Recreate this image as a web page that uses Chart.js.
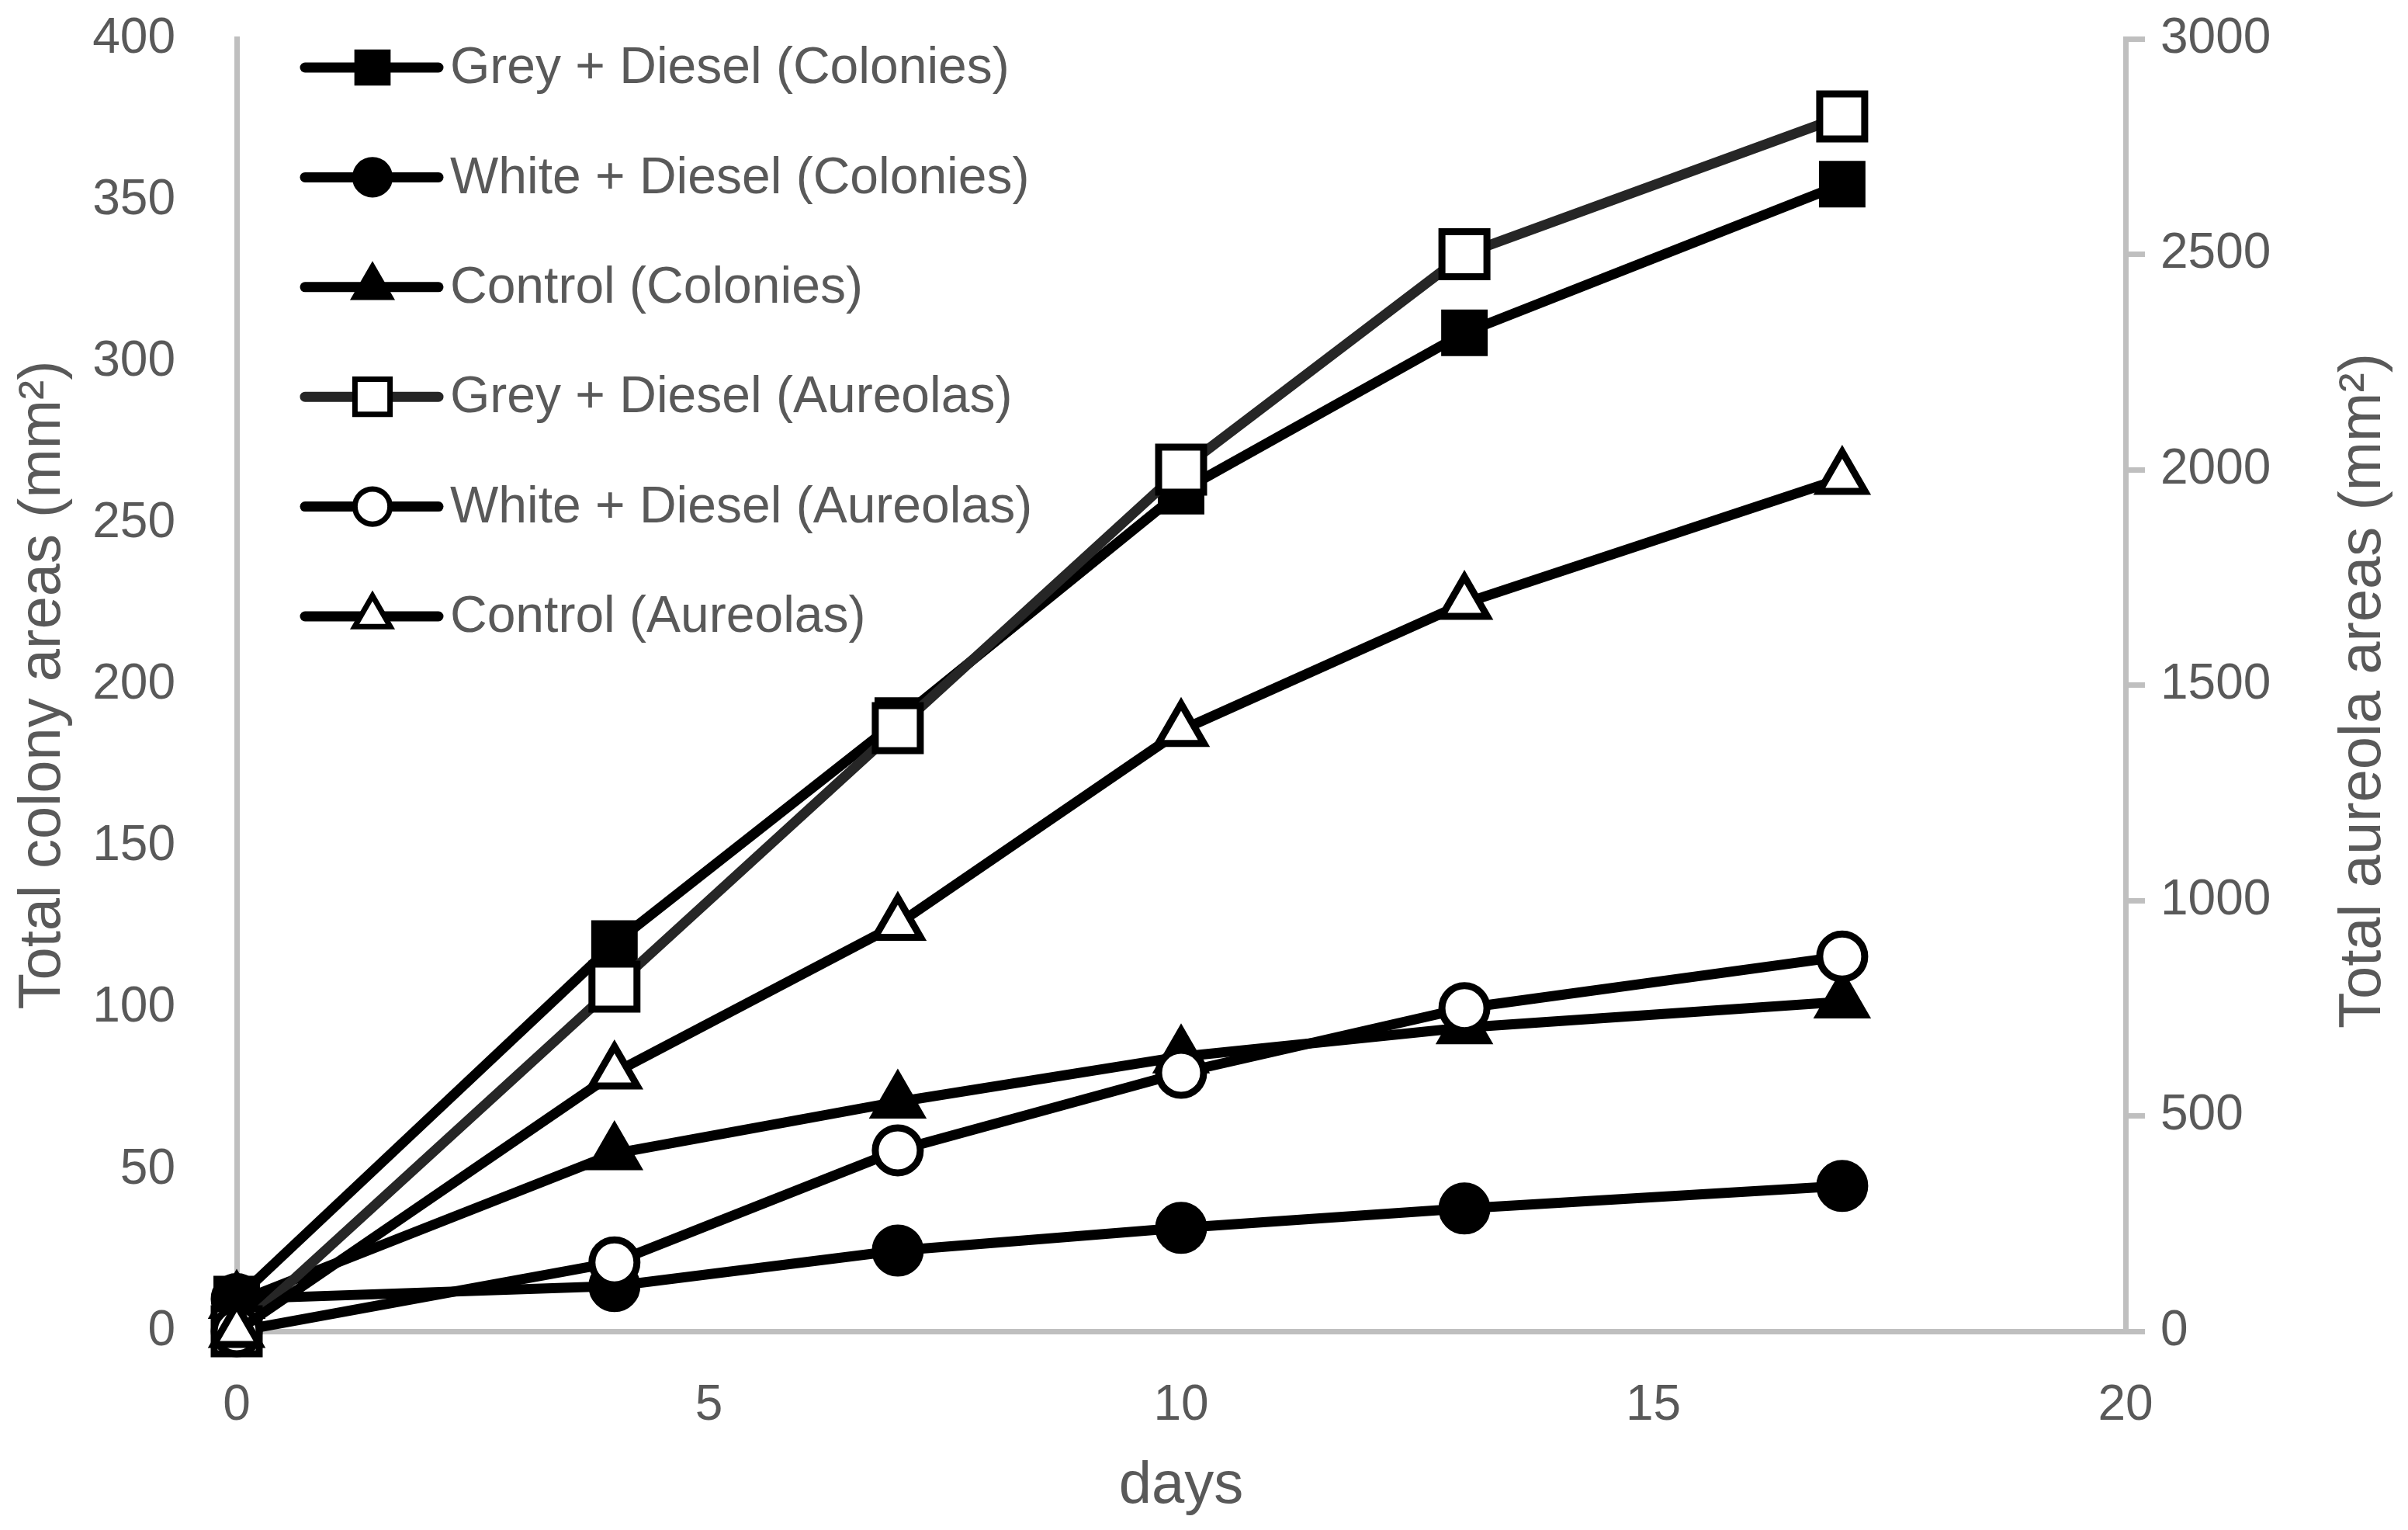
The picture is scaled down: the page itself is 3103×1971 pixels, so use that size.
<!DOCTYPE html>
<html>
<head>
<meta charset="utf-8">
<title>Colony and aureola areas</title>
<script src="https://cdn.jsdelivr.net/npm/chart.js@4.4.1/dist/chart.umd.min.js"></script>
<style>
  html, body { margin: 0; padding: 0; background: #ffffff; }
  #wrap { width: 3103px; height: 1971px; position: relative; }
</style>
</head>
<body>
<div id="wrap"><canvas id="myChart"></canvas></div>
<script>
// days of measurement
const days = [0, 4, 7, 10, 13, 17];

// colony areas (left axis, mm2)
const greyColonies = [10, 120, 189, 260, 309, 355];
const whiteColonies = [10, 14, 25, 32, 38, 45];
const controlColonies = [9, 55, 71, 85, 94, 102];

// aureola areas (right axis, mm2)
const greyAureolas = [0, 800, 1400, 2000, 2500, 2820];
const whiteAureolas = [0, 160, 420, 600, 750, 870];
const controlAureolas = [0, 600, 945, 1395, 1690, 1980];

const seriesLabels = [
  "Grey + Diesel (Colonies)",
  "White + Diesel (Colonies)",
  "Control (Colonies)",
  "Grey + Diesel (Aureolas)",
  "White + Diesel (Aureolas)",
  "Control (Aureolas)",
];

// axis ranges / tick steps
const xRange = [0, 20, 5];
const leftRange = [0, 400, 50];
const rightRange = [0, 3000, 500];

const leftTitle = "Total colony areas (mm²)";
const rightTitle = "Total aureola areas (mm²)";
const xTitle = "days";

const textGrey = "#595959";
const axisGrey = "#BFBFBF";
const fontFamily = "'Liberation Sans', Arial, sans-serif";

const toPoints = (values) => values.map((v, i) => ({ x: days[i], y: v }));

const makeSet = (idx, values, axis, style, filled, radius, lineColor) => ({
  label: seriesLabels[idx],
  data: toPoints(values),
  yAxisID: axis,
  borderColor: lineColor,
  borderWidth: 13,
  pointStyle: style,
  pointRadius: radius,
  pointBorderWidth: 9,
  pointBorderColor: "#000000",
  pointBackgroundColor: filled ? "#000000" : "#ffffff",
  tension: 0,
  clip: false,
  order: 5 - idx, // later series on top, like the original
});

const datasets = [
  makeSet(0, greyColonies, "y", "rect", true, 36, "#000000"),
  makeSet(1, whiteColonies, "y", "circle", true, 29, "#000000"),
  makeSet(2, controlColonies, "y", "triangle", true, 34, "#000000"),
  makeSet(3, greyAureolas, "y1", "rect", false, 41, "#262626"),
  makeSet(4, whiteAureolas, "y1", "circle", false, 29, "#000000"),
  makeSet(5, controlAureolas, "y1", "triangle", false, 34, "#000000"),
];

// legend with a line + marker for each series, drawn top left inside the plot
const lineLegend = {
  id: "lineLegend",
  afterDraw(chart) {
    const ctx = chart.ctx;
    ctx.save();
    chart.data.datasets.forEach((ds, i) => {
      const y = 87 + i * 141.4;
      ctx.strokeStyle = ds.borderColor;
      ctx.lineWidth = 13;
      ctx.lineCap = "round";
      ctx.beginPath();
      ctx.moveTo(393, y);
      ctx.lineTo(565, y);
      ctx.stroke();

      ctx.fillStyle = ds.pointBackgroundColor;
      ctx.strokeStyle = "#000000";
      ctx.lineWidth = 7;
      Chart.helpers.drawPoint(ctx, {
        pointStyle: ds.pointStyle,
        radius: ds.pointRadius * 0.78,
        borderWidth: 7,
        rotation: 0,
      }, 480, y);

      ctx.fillStyle = textGrey;
      ctx.font = "66px " + fontFamily;
      ctx.textAlign = "left";
      ctx.textBaseline = "middle";
      ctx.fillText(ds.label, 580, y + 2);
    });
    ctx.restore();
  },
};

// right axis title reads bottom to top, like the left one
const rightAxisTitle = {
  id: "rightAxisTitle",
  afterDraw(chart) {
    const ctx = chart.ctx;
    ctx.save();
    ctx.translate(3046, 890);
    ctx.rotate(-Math.PI / 2);
    ctx.fillStyle = textGrey;
    ctx.font = "76px " + fontFamily;
    ctx.textAlign = "center";
    ctx.textBaseline = "middle";
    ctx.fillText(rightTitle, 0, 0);
    ctx.restore();
  },
};

const tickFont = { family: fontFamily, size: 64 };
const titleFont = { family: fontFamily, size: 76 };

// keep the plot box fixed, no extra room for overhanging labels
const noYPad = (s) => { s.paddingTop = 0; s.paddingBottom = 0; };

new Chart(document.getElementById("myChart"), {
  type: "line",
  data: { datasets: datasets },
  options: {
    responsive: true,
    maintainAspectRatio: false,
    devicePixelRatio: 1,
    animation: false,
    events: [],
    layout: { padding: { top: 47, left: 0, right: 0, bottom: 0 } },
    plugins: {
      legend: { display: false },
      tooltip: { enabled: false },
    },
    scales: {
      x: {
        type: "linear",
        min: xRange[0],
        max: xRange[1],
        ticks: { stepSize: xRange[2], color: textGrey, font: tickFont, padding: 58 },
        grid: { drawOnChartArea: false, drawTicks: false },
        border: { color: axisGrey, width: 7 },
        title: { display: true, text: xTitle, color: textGrey, font: titleFont, padding: { top: 0, bottom: 10 } },
        afterFit: (s) => { s.height = 1971 - 1715; s.paddingLeft = 0; s.paddingRight = 0; },
      },
      y: {
        position: "left",
        min: leftRange[0],
        max: leftRange[1],
        ticks: { stepSize: leftRange[2], color: textGrey, font: tickFont, padding: 79 },
        grid: { drawOnChartArea: false, drawTicks: false },
        border: { color: axisGrey, width: 7 },
        title: { display: true, text: leftTitle, color: textGrey, font: titleFont, padding: { top: 10, bottom: 0 } },
        afterFit: (s) => { s.width = 305; noYPad(s); },
      },
      y1: {
        position: "right",
        min: rightRange[0],
        max: rightRange[1],
        ticks: {
          stepSize: rightRange[2], color: textGrey, font: tickFont, padding: 20,
          callback: (v) => String(v),
        },
        grid: { drawOnChartArea: false, drawTicks: true, tickLength: 25, color: axisGrey, lineWidth: 7 },
        border: { color: axisGrey, width: 7 },
        afterFit: (s) => { s.width = 3103 - 2739; noYPad(s); },
      },
    },
  },
  plugins: [lineLegend, rightAxisTitle],
});
</script>
</body>
</html>
